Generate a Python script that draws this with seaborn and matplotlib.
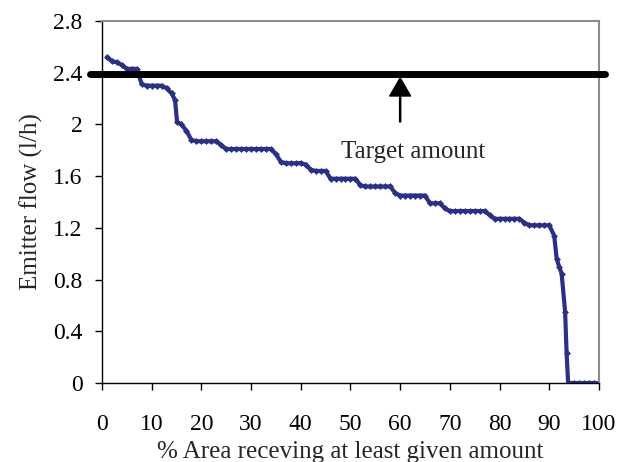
import numpy as np
import matplotlib
matplotlib.use('Agg')
import matplotlib.pyplot as plt
import seaborn as sns

# % del area (x) y caudal del emisor (y)
area_pct = (list(range(1, 15)) + [14.7, 15.1] + list(range(16, 92))
            + [91.5, 92, 92.5, 93.2, 93.5, 93.8] + list(range(94, 101)))
caudal = ([2.52, 2.49, 2.48, 2.46, 2.43, 2.43, 2.43, 2.31, 2.30, 2.30,
           2.30, 2.30, 2.28, 2.24, 2.19, 2.02, 2.00, 1.95, 1.88, 1.87,
           1.87, 1.87, 1.87, 1.87, 1.84]
          + [1.81] * 10
          + [1.77, 1.71, 1.70, 1.70, 1.70, 1.70, 1.69, 1.65, 1.64, 1.64, 1.64]
          + [1.58] * 6
          + [1.53] + [1.52] * 6
          + [1.47] + [1.45] * 6
          + [1.39] * 3 + [1.35]
          + [1.33] * 8 + [1.30]
          + [1.27] * 6 + [1.24]
          + [1.22] * 5 + [1.14]
          + [0.96, 0.90, 0.845, 0.55, 0.23, 0.0]
          + [0.0] * 7)

# linea objetivo
objetivo_x = [-2.4, 101.3]
objetivo_y = [2.39, 2.39]
flecha_x = 60
flecha_desde = 2.02
flecha_hasta = 2.36

sns.set_style('white')
plt.rcParams['font.family'] = ['Liberation Serif', 'DejaVu Serif']

fig = plt.figure(figsize=(6.2, 4.62), dpi=100)
ax = fig.add_axes([0.1645, 0.171, 0.8015, 0.7835])

sns.lineplot(x=area_pct, y=caudal, ax=ax, color='#2B2F8C', linewidth=3.0,
             marker='D', markersize=3.5, markeredgewidth=0, estimator=None)

ax.plot(objetivo_x, objetivo_y, color='black', linewidth=5,
        solid_capstyle='round', clip_on=False, zorder=5)

ax.annotate('', xy=(flecha_x, flecha_hasta), xytext=(flecha_x, flecha_desde),
            arrowprops=dict(facecolor='black', edgecolor='black', width=0.8,
                            headwidth=15, headlength=13, shrink=0))
ax.text(62.6, 1.79, 'Target amount', ha='center', va='center', fontsize=18)

ax.set_xlim(0, 100)
ax.set_ylim(0, 2.8)
ax.set_xticks(np.arange(0, 101, 10))
ax.set_yticks([0, 0.4, 0.8, 1.2, 1.6, 2, 2.4, 2.8])
ax.set_yticklabels(['0', '0.4', '0.8', '1.2', '1.6', '2', '2.4', '2.8'])

ax.tick_params(axis='x', direction='out', length=5, width=1, pad=17, labelsize=17, colors='black')
ax.tick_params(axis='y', direction='out', length=5, width=1, pad=9, labelsize=17, colors='black')
ax.tick_params(left=True, bottom=True)

for lado in ['left', 'bottom']:
    ax.spines[lado].set_color('black')
    ax.spines[lado].set_linewidth(1)
for lado in ['top', 'right']:
    ax.spines[lado].set_color('#8c8c8c')
    ax.spines[lado].set_linewidth(1.5)

ax.set_xlabel('% Area receving at least given amount', fontsize=18, labelpad=5)
ax.set_ylabel('Emitter flow (l/h)', fontsize=18, labelpad=7)

fig.savefig('out.png', dpi=100)
